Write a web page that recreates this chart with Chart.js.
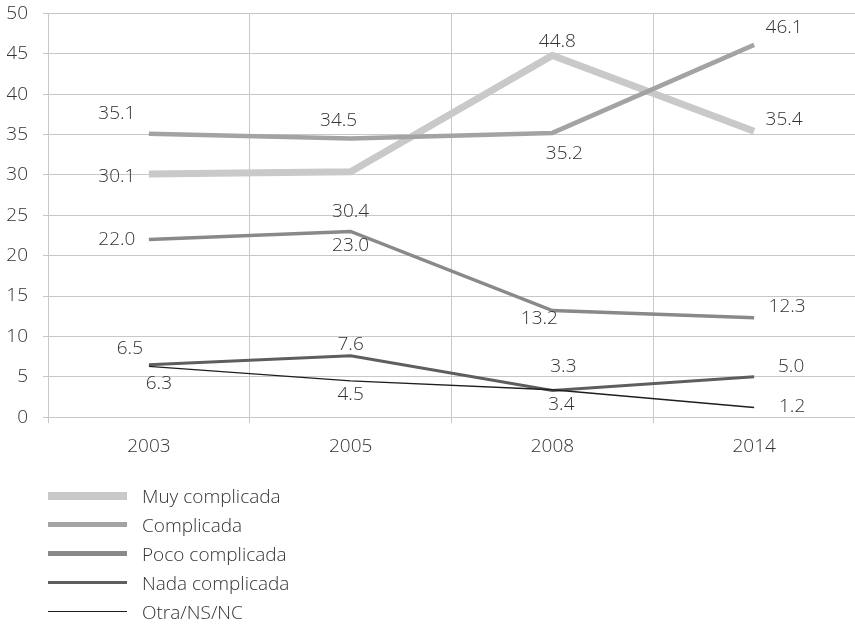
<!DOCTYPE html>
<html>
<head>
<meta charset="utf-8">
<script src="https://cdn.jsdelivr.net/npm/chart.js@4/dist/chart.umd.min.js"></script>
<style>
  html, body { margin: 0; padding: 0; background: #fff; overflow: hidden; }
  #wrap { position: relative; width: 855px; height: 629px; overflow: hidden; }
  #c { position: absolute; left: 0; top: -13px; }
  #legend { position: absolute; left: 48px; top: 481px; font-family: "Open Sans", Lato, sans-serif; font-weight: 300; font-size: 19px; color: #333; }
  .row { display: flex; align-items: center; height: 29px; }
  .swatch { width: 79px; margin-right: 15px; flex: none; }
</style>
</head>
<body>
<div id="wrap">
  <canvas id="c" width="855" height="642"></canvas>
  <div id="legend"></div>
</div>
<script>
// Survey years
const years = ['2003', '2005', '2008', '2014'];

// Percentage per answer
const muyComplicada  = [30.1, 30.4, 44.8, 35.4];
const complicada     = [35.1, 34.5, 35.2, 46.1];
const pocoComplicada = [22.0, 23.0, 13.2, 12.3];
const nadaComplicada = [6.5, 7.6, 3.3, 5.0];
const otraNsNc       = [6.3, 4.5, 3.4, 1.2];

const seriesNames = ['Muy complicada', 'Complicada', 'Poco complicada', 'Nada complicada', 'Otra/NS/NC'];
const yTicks = [0, 5, 10, 15, 20, 25, 30, 35, 40, 45, 50];

// Styling per series
const colors = ['#c9c9c9', '#a3a3a5', '#89898b', '#5e5e60', '#1e1e1e'];
const widths = [7, 4.5, 3.5, 3, 1.3];
const legendWidths = [8, 5, 4.5, 3, 1.5];

// Label offsets (dx, dy) from each point, in px
const labelOffsets = [
  [[-32, 2], [0, 40], [5, -14], [30, -12]],
  [[-32, -20], [-12, -18], [12, 21], [30, -17]],
  [[-32, 0], [0, 14], [-13, 8], [33, -11]],
  [[-19, -16], [0, -11], [11, -24], [37, -10]],
  [[10, 17], [0, 14], [9, 15], [38, -1]]
];

const seriesData = [muyComplicada, complicada, pocoComplicada, nadaComplicada, otraNsNc];
const FONT = '"Open Sans", Lato, sans-serif';

const valueLabels = {
  id: 'valueLabels',
  afterDatasetsDraw(chart) {
    const ctx = chart.ctx;
    ctx.save();
    ctx.font = '300 19px ' + FONT;
    ctx.fillStyle = '#333';
    ctx.textAlign = 'center';
    ctx.textBaseline = 'middle';
    chart.data.datasets.forEach((ds, i) => {
      const meta = chart.getDatasetMeta(i);
      meta.data.forEach((pt, j) => {
        const off = labelOffsets[i][j];
        ctx.fillText(ds.data[j].toFixed(1), pt.x + off[0], pt.y + off[1]);
      });
    });
    ctx.restore();
  }
};

new Chart(document.getElementById('c'), {
  type: 'line',
  data: {
    labels: years,
    datasets: seriesData.map((d, i) => ({
      label: seriesNames[i],
      data: d,
      borderColor: colors[i],
      backgroundColor: colors[i],
      borderWidth: widths[i],
      pointRadius: 0,
      tension: 0,
      fill: false,
      order: 5 - i
    }))
  },
  options: {
    responsive: false,
    animation: false,
    layout: { padding: { top: 0, right: 0, left: 7, bottom: 159 } },
    plugins: { legend: { display: false }, tooltip: { enabled: false } },
    scales: {
      x: {
        offset: true,
        grid: { offset: true, color: '#c8c8c8', lineWidth: 1, tickLength: 6 },
        border: { color: '#c8c8c8' },
        ticks: { color: '#333', font: { family: FONT, size: 19, weight: 300 }, padding: 12 }
      },
      y: {
        min: 0, max: 50,
        afterBuildTicks(axis) { axis.ticks = yTicks.map(v => ({ value: v })); },
        afterFit(axis) { axis.width = 41; },
        grid: { color: '#c8c8c8', lineWidth: 1, tickLength: 5 },
        border: { color: '#c8c8c8' },
        ticks: { color: '#333', font: { family: FONT, size: 19, weight: 300 }, padding: 15 }
      }
    }
  },
  plugins: [valueLabels]
});

// Legend
const legend = document.getElementById('legend');
seriesNames.forEach((name, i) => {
  const row = document.createElement('div');
  row.className = 'row';
  const sw = document.createElement('div');
  sw.className = 'swatch';
  sw.style.height = legendWidths[i] + 'px';
  sw.style.background = colors[i];
  const txt = document.createElement('span');
  txt.textContent = name;
  row.appendChild(sw);
  row.appendChild(txt);
  legend.appendChild(row);
});
</script>
</body>
</html>
